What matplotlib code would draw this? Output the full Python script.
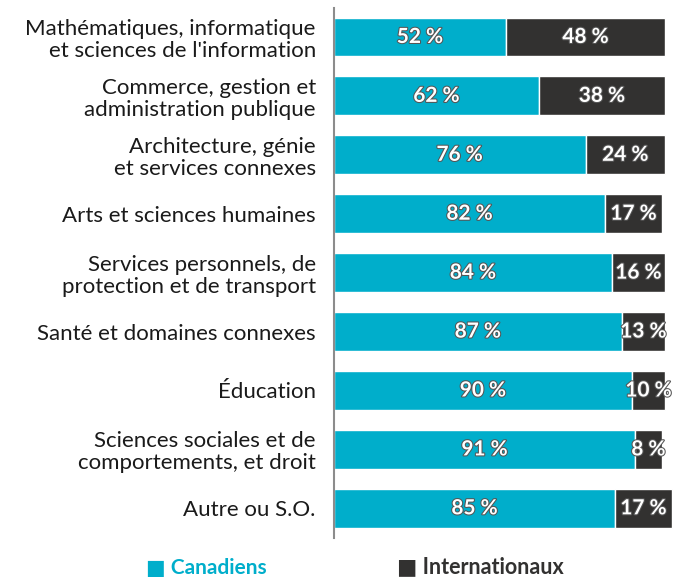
import matplotlib.pyplot as plt
import matplotlib.patheffects as pe

plt.rcParams['font.family'] = ['Lato', 'DejaVu Sans']

categories = ["Mathématiques, informatique\net sciences de l'information",
              "Commerce, gestion et\nadministration publique",
              "Architecture, génie\net services connexes",
              "Arts et sciences humaines",
              "Services personnels, de\nprotection et de transport",
              "Santé et domaines connexes",
              "Éducation",
              "Sciences sociales et de\ncomportements, et droit",
              "Autre ou S.O."]
canadiens = [52, 62, 76, 82, 84, 87, 90, 91, 85]
internationaux = [48, 38, 24, 17, 16, 13, 10, 8, 17]

teal = '#00AECB'
dark = '#323130'

fig = plt.figure(figsize=(6.87, 5.77), dpi=100)
ax = fig.add_axes([0.486, 0.068, 0.482, 0.919])

y = range(len(categories))
ax.barh(y, canadiens, height=0.66, color=teal, edgecolor='white', linewidth=1, clip_on=False)
ax.barh(y, internationaux, left=canadiens, height=0.66, color=dark, edgecolor='white',
        linewidth=1, clip_on=False)

fx = [pe.withStroke(linewidth=1.5, foreground='#555555')]
for i in y:
    ax.text(canadiens[i] / 2, i, f"{canadiens[i]} %", ha='center', va='center', color='white',
            fontsize=15, fontweight='bold', path_effects=fx)
    ax.text(canadiens[i] + internationaux[i] / 2, i, f"{internationaux[i]} %", ha='center',
            va='center', color='white', fontsize=15, fontweight='bold', path_effects=fx,
            clip_on=False)

ax.set_xlim(0, 100)
ax.set_ylim(8.5, -0.5)
ax.set_yticks(list(y))
ax.set_yticklabels(categories, fontsize=16, color='#1a1a1a', linespacing=1.12)
ax.tick_params(axis='y', length=0, pad=13)
ax.set_xticks([])
for s in ['top', 'right', 'bottom']:
    ax.spines[s].set_visible(False)
ax.spines['left'].set_color('#8c8c8c')
ax.spines['left'].set_linewidth(1.5)

fig.text(0.213, 0.006, "■ Canadiens", color=teal, fontsize=15, fontweight='bold')
fig.text(0.578, 0.006, "■ Internationaux", color=dark, fontsize=15.5, fontweight='bold')

fig.savefig('out.png', dpi=100)
